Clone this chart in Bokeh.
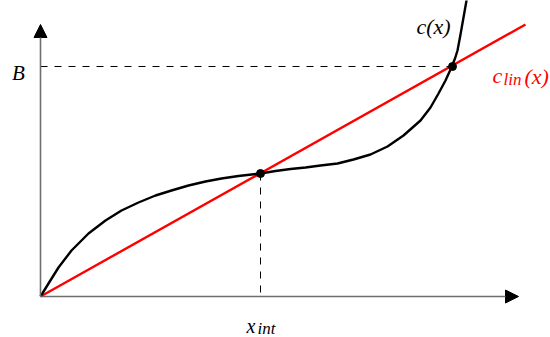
from bokeh.plotting import figure
from bokeh.models import Range1d, Arrow, NormalHead, Label
from bokeh.embed import file_html
from bokeh.resources import INLINE

# ---- data ----
curve_x = [0.0, 0.08, 0.18, 0.31, 0.48, 0.65, 0.81, 0.98, 1.15, 1.31, 1.48, 1.65, 1.81, 1.98,
           2.20, 2.35, 2.50, 2.65, 2.80, 2.97, 3.13, 3.30, 3.47, 3.63, 3.80, 3.90, 3.98, 4.05,
           4.10, 4.145, 4.17, 4.20, 4.23, 4.26, 4.29]
curve_y = [0.0, 0.13, 0.29, 0.46, 0.63, 0.76, 0.86, 0.94, 1.01, 1.06, 1.11, 1.15, 1.18, 1.205,
           1.23, 1.255, 1.275, 1.29, 1.31, 1.33, 1.37, 1.42, 1.50, 1.61, 1.76, 1.89, 2.03, 2.16,
           2.27, 2.38, 2.46, 2.62, 2.79, 2.96, 3.14]
lin_x = [0.0, 4.85]
lin_y = [0.0, 2.72]
x_int = 2.20
y_int = 1.23
x_B = 4.12
B = 2.30
x_axis_end = 4.78
y_axis_end = 2.72

# pixel helpers for annotation placement (origin at page px (40, 296), 100 px per unit)
def dx(px):
    return (px - 40) / 100.0

def dy(py):
    return (296 - py) / 100.0

W, H = 550, 337
p = figure(width=W, height=H, output_backend="svg", toolbar_location=None,
           x_range=Range1d(dx(0), dx(0) + W / 100.0),
           y_range=Range1d(dy(0) - H / 100.0, dy(0)),
           min_border=0, min_border_left=0, min_border_right=0,
           min_border_top=0, min_border_bottom=0)
p.axis.visible = False
p.grid.visible = False
p.outline_line_color = None
p.background_fill_color = "white"
p.border_fill_color = "white"

axis_col = "#6e6e6e"
# axes with arrow heads
p.add_layout(Arrow(end=NormalHead(size=13, fill_color="black", line_color="black", line_width=1),
                   x_start=0, y_start=0, x_end=x_axis_end, y_end=0,
                   line_color=axis_col, line_width=1.6))
p.add_layout(Arrow(end=NormalHead(size=13, fill_color="black", line_color="black", line_width=1),
                   x_start=0, y_start=0, x_end=0, y_end=y_axis_end,
                   line_color=axis_col, line_width=1.6))

# dashed guides
p.line([0, x_B], [B, B], line_color="black", line_width=1, line_dash="7 7")
p.line([x_int, x_int], [y_int, -0.03], line_color="black", line_width=1, line_dash="7 7")

# curves
p.line(lin_x, lin_y, line_color="#ff0000", line_width=2.4)
p.line(curve_x, curve_y, line_color="black", line_width=2.4, line_join="round")

# points
p.scatter([x_int, x_B], [y_int, B], size=8, color="black")

font = "Liberation Serif"

def lab(text, px, py, size, color="black", style="italic", align="left"):
    p.add_layout(Label(x=dx(px), y=dy(py), text=text, text_font=font,
                       text_font_size=f"{size}px", text_font_style=style,
                       text_color=color, text_align=align, text_baseline="alphabetic"))

lab("B", 18, 72, 21, align="center")
lab("c(x)", 416, 26, 22)
lab("c", 492, 75, 22, color="#ff0000")
lab("lin", 503, 79, 17, color="#ff0000")
lab("(x)", 524, 76, 22, color="#ff0000")
lab("x", 246, 325, 20)
lab("int", 257, 328, 17)

open("out.html", "w").write(file_html(p, INLINE))
